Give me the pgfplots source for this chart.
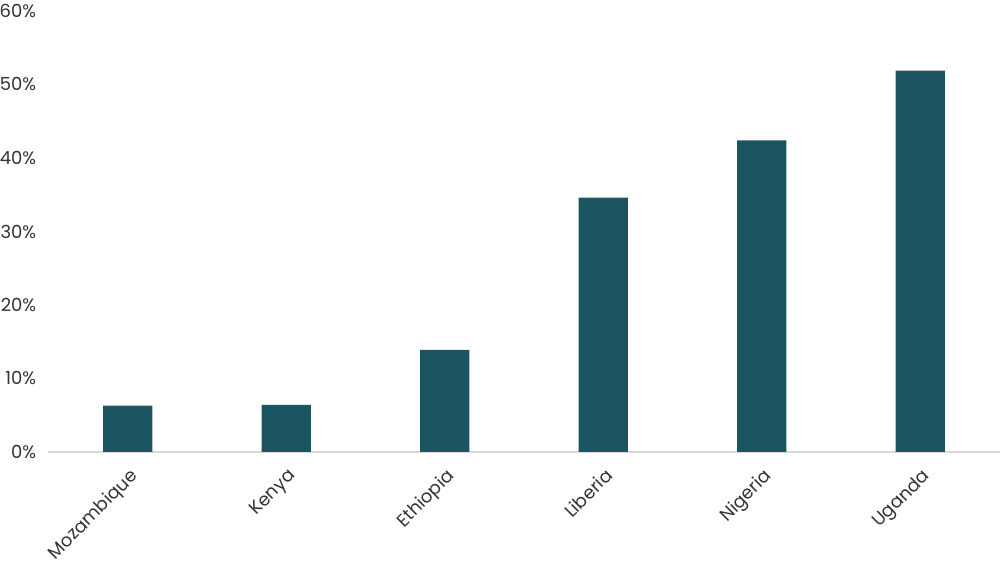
\documentclass[border=0pt]{standalone}
\usepackage{pgfplots}
\pgfplotsset{compat=1.18}
\usepackage{fontspec}
\setmainfont{Poppins}
\definecolor{barc}{HTML}{1C5562}
\definecolor{txt}{HTML}{333333}
\definecolor{axl}{HTML}{D9D9D9}
\begin{document}
\begin{tikzpicture}
\begin{axis}[
  scale only axis,
  width=475.5pt, height=220.5pt,
  xmin=-0.5, xmax=5.5, ymin=0, ymax=60,
  axis line style={draw=none},
  ybar, bar width=0.31,
  xtick=data,
  xticklabels={Mozambique,Kenya,Ethiopia,Liberia,Nigeria,Uganda},
  ytick={0,10,20,30,40,50,60},
  yticklabel={\pgfmathprintnumber{\tick}\%},
  /pgf/number format/assume math mode=true,
  tick style={draw=none},
  major tick length=0pt,
  ticklabel style={font=\fontsize{9}{11}\selectfont, text=txt},
  xticklabel style={rotate=45, anchor=north east, inner sep=0pt, xshift=-5pt, yshift=-5.5pt},
  yticklabel style={anchor=east, inner sep=0pt, xshift=-6pt},
  clip=false,
]
\draw[axl, line width=0.7pt] (axis cs:-0.5,0) -- (axis cs:5.5,0);
\addplot[fill=barc, draw=none] coordinates {(0,6.3) (1,6.4) (2,13.9) (3,34.6) (4,42.4) (5,51.9)};
\end{axis}
\pgfresetboundingbox
\path[use as bounding box] ([shift={(-24.25pt,-55.5pt)}]current axis.south west) rectangle ([shift={(0.25pt,5.5pt)}]current axis.north east);
\end{tikzpicture}
\end{document}
